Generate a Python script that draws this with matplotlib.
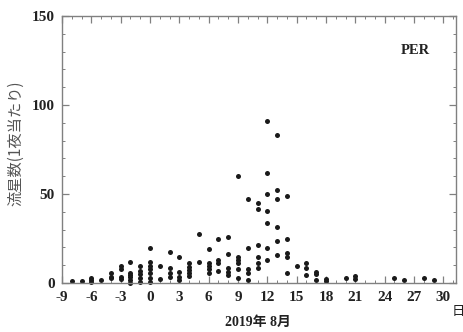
import matplotlib
matplotlib.use("Agg")
import matplotlib.pyplot as plt
from matplotlib.ticker import MultipleLocator

plt.rcParams["axes.unicode_minus"] = False

# data: nightly meteor counts (PER), August 2019 (day offsets)
day_points = {
    -8: [1], -7: [1], -6: [0.5, 1.7, 2.6], -5: [1.7], -4: [2.6, 3.5, 5.8],
    -3: [2, 3.5, 7.7, 9.5], -2: [0.2, 1.7, 3.2, 4.5, 5.8, 11.6],
    -1: [0.6, 2.8, 5, 7, 9.5], 0: [0.6, 2.8, 5.4, 7.7, 9.5, 11.8, 19.5],
    1: [2, 9.5], 2: [3.2, 5.8, 8.2, 17.6], 3: [1.7, 3.2, 6.3, 14.4],
    4: [3.9, 5.4, 7.3, 9.2, 11], 5: [11.6, 27.5], 6: [5.4, 7.7, 9.7, 11.4, 18.9],
    7: [6.9, 11.4, 12.9, 24.6], 8: [4.5, 6.3, 8.2, 16.3, 26],
    9: [2.6, 7.7, 11.4, 12.9, 14.4, 60], 10: [1.7, 5.8, 7.7, 19.5, 47],
    11: [8.6, 11.4, 14.8, 21.3, 41.4, 44.8],
    12: [12.9, 19.5, 33.5, 40.6, 49.8, 62, 91],
    13: [15.7, 23.6, 31.6, 47, 52.2, 83], 14: [5.4, 14.8, 17, 25, 48.9],
    15: [9.5], 16: [4.5, 8.2, 11.5], 17: [1.7, 5.2, 6.2], 18: [1, 2],
    20: [2.6], 21: [2, 3.9], 25: [2.6], 26: [1.7], 28: [2.6], 29: [1.7],
}
days = [d for d, vs in day_points.items() for _ in vs]
counts = [v for vs in day_points.values() for v in vs]

x_ticks = [-9, -6, -3, 0, 3, 6, 9, 12, 15, 18, 21, 24, 27, 30]
y_ticks = [0, 50, 100, 150]

fig = plt.figure(figsize=(4.64, 3.32), dpi=100)
ax = fig.add_axes([62/464, 1-283/332, (456-62)/464, (283-16)/332])

ax.plot(days, counts, linestyle="none", marker="o", ms=3.6, color="#1a1a1a",
        markeredgewidth=0, clip_on=False)

ax.set_xlim(-9, 31.3)
ax.set_ylim(0, 150)
ax.set_xticks(x_ticks)
ax.set_yticks(y_ticks)
ax.xaxis.set_minor_locator(MultipleLocator(1))
ax.yaxis.set_minor_locator(MultipleLocator(10))

spine_c = "#808080"
for s in ax.spines.values():
    s.set_color(spine_c)
    s.set_linewidth(1.0)
ax.tick_params(which="both", direction="in", top=True, right=True, color=spine_c)
ax.tick_params(which="major", length=5, width=0.9)
ax.tick_params(which="minor", length=2.5, width=0.7)
ax.tick_params(axis="x", pad=6)
ax.tick_params(axis="y", pad=5)

for lab in ax.get_xticklabels() + ax.get_yticklabels():
    lab.set_fontfamily("Liberation Serif")
    lab.set_fontweight("bold")
    lab.set_fontsize(11)
    lab.set_color("#222222")

cjk = ["Noto Sans CJK JP", "DejaVu Sans"]
fig.text(16/464, 1-143/332, "流星数(1夜当たり)", rotation=90, ha="center", va="center",
         family=cjk, fontsize=11, color="#555555")
fig.text(258/464, 1-322/332, "2019年 8月", ha="center", va="center",
         family=["Liberation Serif", "Noto Sans CJK JP"], fontweight="bold",
         fontsize=10, color="#222222")
fig.text(458/464, 1-312/332, "日", ha="center", va="center",
         family=cjk, fontsize=9.5, color="#222222")
fig.text(415/464, 1-50/332, "PER", ha="center", va="center",
         family="Liberation Serif", fontweight="bold", fontsize=10.5, color="#222222")

fig.savefig("out.png", dpi=100)
